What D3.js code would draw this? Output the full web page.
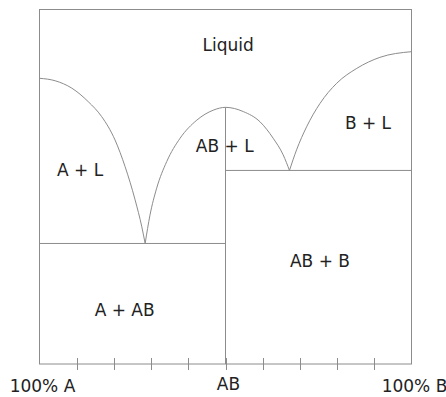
<!DOCTYPE html>
<html>
<head>
<meta charset="utf-8">
<script src="https://cdn.jsdelivr.net/npm/d3@7"></script>
<style>
  body { margin: 0; background: #fff; }
  text { font-family: "DejaVu Sans", sans-serif; font-size: 17px; fill: #222; }
</style>
</head>
<body>
<div id="chart"></div>
<script>
// composition in % B, temperature in arbitrary units (0 = bottom, 100 = top)
const liquidusA = [
  [0, 80.6], [4.2, 79.9], [8.7, 77.8], [13.1, 74.0], [16.7, 69.8],
  [20.3, 63.2], [23.0, 55.7], [25.7, 46.3], [27.5, 38.7], [28.4, 34.0]
];
const liquidusAB = [
  [28.4, 34.0], [29.7, 42.0], [31.5, 49.6], [34.2, 57.1], [37.8, 63.7],
  [42.3, 68.8], [46.7, 71.6], [50, 72.4], [54.8, 71.2], [59.3, 68.3],
  [62.8, 63.7], [65.5, 59.0], [67.2, 54.6]
];
const liquidusB = [
  [67.2, 54.6], [69.1, 60.4], [71.8, 66.9], [75.4, 73.5], [79.9, 79.2],
  [85.3, 83.4], [91.5, 86.5], [100, 88.1]
];
const eutectics = [
  [[0, 34.0], [50, 34.0]],
  [[50, 54.6], [100, 54.6]]
];
const compound = [[50, 0], [50, 72.4]];
const tickValues = [10, 20, 30, 40, 50, 60, 70, 80, 90];
const axisLabels = [
  { value: 0, text: "100% A" },
  { value: 50, text: "AB" },
  { value: 100, text: "100% B" }
];
const regions = [
  { text: "Liquid", c: 50.7, t: 88.2 },
  { text: "A + L", c: 10.9, t: 53.0 },
  { text: "AB + L", c: 49.8, t: 59.7 },
  { text: "B + L", c: 88.3, t: 66.3 },
  { text: "AB + B", c: 75.4, t: 27.4 },
  { text: "A + AB", c: 22.9, t: 13.4 }
];

const width = 446, height = 397;
const x = d3.scaleLinear().domain([0, 100]).range([39.5, 411.5]);
const y = d3.scaleLinear().domain([0, 100]).range([364, 9.5]);
const stroke = "#8c8c8c";

const svg = d3.select("#chart").append("svg")
  .attr("width", width)
  .attr("height", height);

// frame
svg.append("rect")
  .attr("x", x(0)).attr("y", y(100))
  .attr("width", x(100) - x(0)).attr("height", y(0) - y(100))
  .attr("fill", "none").attr("stroke", stroke);

// ticks crossing the bottom edge
svg.selectAll("line.tick").data(tickValues).enter().append("line")
  .attr("class", "tick")
  .attr("x1", d => Math.round(x(d)) + 0.5).attr("x2", d => Math.round(x(d)) + 0.5)
  .attr("y1", y(0) - 6).attr("y2", y(0) + 6)
  .attr("stroke", stroke);

const line = d3.line().x(d => x(d[0])).y(d => y(d[1]));
const curve = d3.line().x(d => x(d[0])).y(d => y(d[1])).curve(d3.curveMonotoneX);

svg.selectAll("path.liquidus").data([liquidusA, liquidusAB, liquidusB]).enter().append("path")
  .attr("class", "liquidus")
  .attr("d", curve)
  .attr("fill", "none").attr("stroke", stroke);

svg.selectAll("path.eutectic").data(eutectics.concat([compound])).enter().append("path")
  .attr("class", "eutectic")
  .attr("d", line)
  .attr("fill", "none").attr("stroke", stroke);

svg.selectAll("text.axis").data(axisLabels).enter().append("text")
  .attr("class", "axis")
  .attr("x", d => x(d.value) + 3)
  .attr("y", d => d.value === 50 ? 389.5 : 392)
  .attr("text-anchor", "middle")
  .text(d => d.text);

svg.selectAll("text.region").data(regions).enter().append("text")
  .attr("class", "region")
  .attr("x", d => x(d.c))
  .attr("y", d => y(d.t))
  .attr("text-anchor", "middle")
  .text(d => d.text);
</script>
</body>
</html>
